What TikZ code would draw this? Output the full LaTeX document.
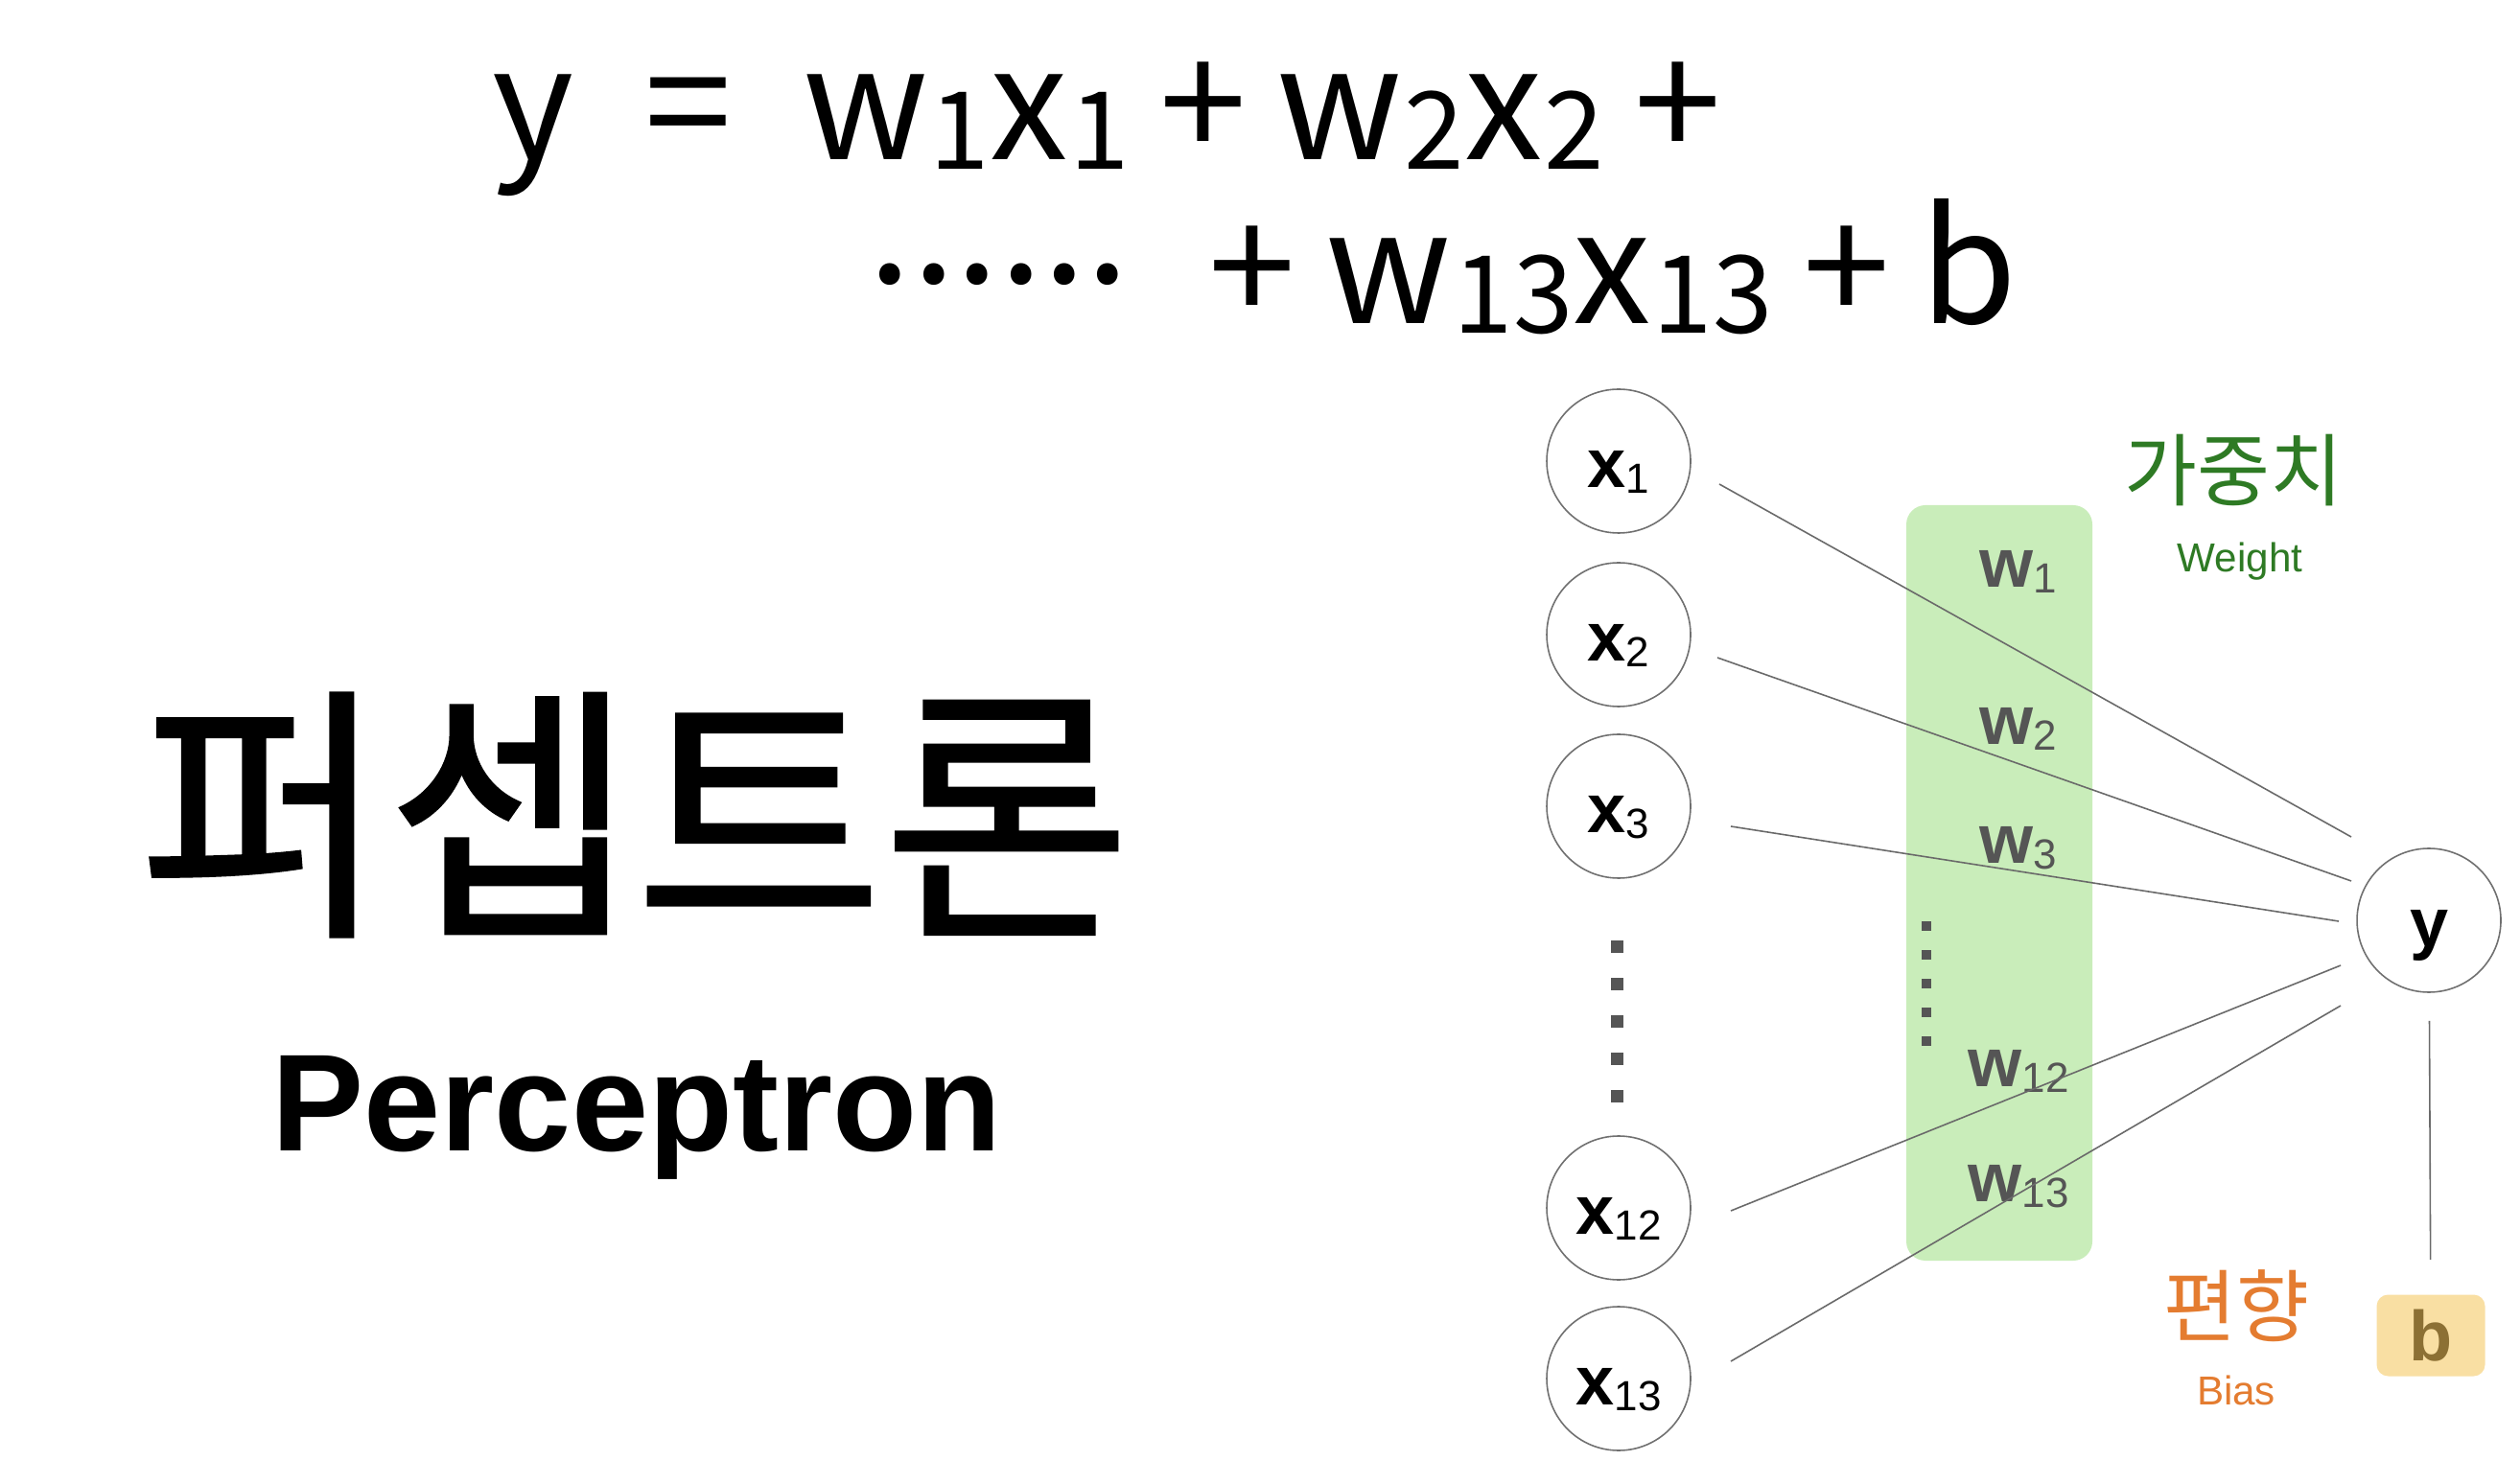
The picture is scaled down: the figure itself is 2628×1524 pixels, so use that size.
\documentclass[tikz,border=0pt]{standalone}
\usepackage{fontspec}
\setmainfont{Liberation Sans}
\newfontfamily\kr{Noto Sans CJK KR}
\newfontfamily\krheavy{Noto Sans CJK KR}[FakeBold=1]
\usetikzlibrary{positioning,calc}
\definecolor{Edge}{HTML}{6A6A6A}
\definecolor{Ring}{HTML}{707070}
\definecolor{Dim}{HTML}{555555}
\definecolor{Leaf}{HTML}{2E7A24}
\definecolor{Mint}{HTML}{C9EDBA}
\definecolor{Rust}{HTML}{E47C30}
\definecolor{Sand}{HTML}{F9DFA3}
\definecolor{Olive}{HTML}{8C7034}
\newcommand\sub[1]{\raisebox{-1.7pt}{\fontsize{12.5}{14}\selectfont\mdseries #1}}
\newcommand\eqsub[1]{\kern.5pt\raisebox{-2.7pt}{\fontsize{32}{35}\selectfont #1}}
\newcommand\gap{\hspace{9pt}}
\tikzset{
 unit/.style={circle,draw=Ring,line width=.45pt,minimum size=15mm,inner sep=0,text height=15.4pt,text depth=0pt,font=\fontsize{20.5}{24}\selectfont\bfseries},
 wlab/.style={inner sep=0,text=Dim,font=\fontsize{20.5}{24}\selectfont\bfseries},
 wire/.style={draw=Edge,line width=.45pt},
 eq/.style={anchor=base west,inner sep=0,font=\kr\fontsize{46.5}{50}\selectfont},
 tag/.style={inner sep=0,font=\kr\fontsize{23.5}{26}\selectfont},
 note/.style={anchor=base,inner sep=0,font=\fontsize{12}{14}\selectfont}
}
\begin{document}
\begin{tikzpicture}[x=.1mm,y=-.1mm]
\fill[white] (0,0) rectangle (2628,1524);
\useasboundingbox (0,0) rectangle (2628,1524);
% formula
\node[eq] (row1) at (513,167) {y\hspace{21pt}=\hspace{21pt}w\eqsub{1}x\eqsub{1}\gap+\gap w\eqsub{2}x\eqsub{2}\gap+};
\node[eq,anchor=west] (dots) at (905,286) {......};
\node[eq] (row2) at (1260,338) {+\gap w\eqsub{13}x\eqsub{13}\gap+\gap b};
% title
\node[inner sep=0,font=\krheavy\fontsize{80}{86}\selectfont] (title) at (662,850) {퍼셉트론};
\node[anchor=base,inner sep=0,font=\bfseries\fontsize{41}{46}\selectfont] (eng) at (664,1200) {Perceptron};
% weights band
\fill[Mint,rounded corners=2mm] (1988,527) rectangle (2182,1315);
\foreach \n/\py in {1/596,2/760,3/885,12/1117,13/1238}
 \node[wlab] (w\n) at (2105,\py) {w\sub{\n}};
\foreach \k in {0,...,4}
 \fill[Dim] (2004,961+30*\k) rectangle +(10,10);
% inputs
\foreach \n/\py in {1/481,2/662,3/841,12/1260,13/1438}
 \node[unit] (x\n) at (1688,\py) {x\sub{\n}};
\foreach \k in {0,...,4}
 \fill[Dim] (1680,981+39*\k) rectangle +(13,13);
\node[unit] (y) at (2533,960) {y};
\node[fill=Sand,rounded corners=1.2mm,minimum width=11.3mm,minimum height=8.5mm,inner sep=0,text=Olive,font=\fontsize{21}{24}\selectfont\bfseries] (b) at (2535,1393) {b};
\foreach \n/\sx/\sy/\ex/\ey in {1/105/24/-81/-87,2/103/24/-81/-41,3/117/21/-94/1,12/117/3/-92/47,13/117/-18/-92/89}
 \draw[wire] ([shift={(\sx,\sy)}]x\n.center) -- ([shift={(\ex,\ey)}]y.center);
\draw[wire,shorten <=2.9mm,shorten >=3.6mm] (y) -- (b);
% labels
\node[tag,text=Leaf] (wkr) at (2329,491) {가중치};
\node[note,text=Leaf] (wen) at (2336,597) {Weight};
\node[tag,text=Rust] (bkr) at (2332,1362) {편향};
\node[note,text=Rust] (ben) at (2332,1465) {Bias};
\end{tikzpicture}
\end{document}
